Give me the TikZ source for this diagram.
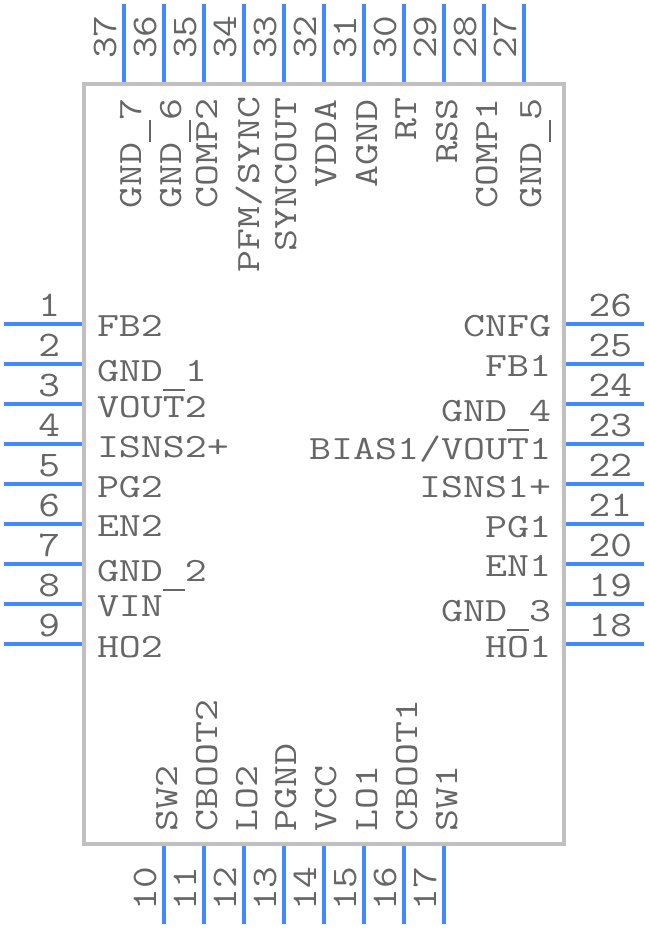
\documentclass[tikz,border=0pt]{standalone}
\usepackage{graphicx}
\definecolor{pinblue}{HTML}{4488FF}
\definecolor{boxgray}{HTML}{C0C0C0}
\definecolor{txtgray}{HTML}{666666}
\newcommand{\us}{\makebox[0.515em][c]{\rule[-0.29em]{0.5em}{0.05em}}}
\newcommand{\pintxt}[1]{\scalebox{1.256}[1]{\fontsize{34}{34}\selectfont\ttfamily #1}}
\newcommand{\numtxt}[1]{\scalebox{1.17}[1]{\fontsize{36}{36}\selectfont\ttfamily #1}}
\tikzset{
  pinline/.style={draw=pinblue,line width=4pt},
  chipbox/.style={draw=boxgray,line width=4pt},
  lbl/.style={inner sep=0pt,outer sep=0pt,text=txtgray,font=\ttfamily}
}
\begin{document}
\begin{tikzpicture}[x=1pt,y=-1pt]
\useasboundingbox (0,0) rectangle (648,928);
\fill[white] (0,0) rectangle (648,928);
% pins
\foreach \n/\y in {1/324,2/364,3/404,4/444,5/484,6/524,7/564,8/604,9/644}{
  \coordinate (a\n) at (4,\y); \coordinate (b\n) at (84,\y);
  \draw[pinline] (a\n) -- (b\n);
  \pgfmathsetmacro\ty{\y-8}
  \node[lbl,anchor=base east] (num\n) at (60,\ty) {\numtxt{\n}};
}
\foreach \n/\y in {26/324,25/364,24/404,23/444,22/484,21/524,20/564,19/604,18/644}{
  \coordinate (a\n) at (644,\y); \coordinate (b\n) at (564,\y);
  \draw[pinline] (a\n) -- (b\n);
  \pgfmathsetmacro\ty{\y-8}
  \node[lbl,anchor=base east] (num\n) at (632,\ty) {\numtxt{\n}};
}
\foreach \n/\x in {37/124,36/164,35/204,34/244,33/284,32/324,31/364,30/404,29/444,28/484,27/524}{
  \coordinate (a\n) at (\x,4); \coordinate (b\n) at (\x,84);
  \draw[pinline] (a\n) -- (b\n);
  \pgfmathsetmacro\tx{\x-8}
  \node[lbl,rotate=90,anchor=base west] (num\n) at (\tx,59) {\numtxt{\n}};
}
\foreach \n/\x in {10/164,11/204,12/244,13/284,14/324,15/364,16/404,17/444}{
  \coordinate (a\n) at (\x,924); \coordinate (b\n) at (\x,844);
  \draw[pinline] (a\n) -- (b\n);
  \pgfmathsetmacro\tx{\x-8}
  \node[lbl,rotate=90,anchor=base west] (num\n) at (\tx,910) {\numtxt{\n}};
}
\draw[chipbox] (84,84) rectangle (564,844);
% left labels
\foreach \nm/\t/\y in {l1/FB2/336,l2/GND\us 1/381,l3/VOUT2/417,l4/ISNS2+/457,l5/PG2/497,l6/EN2/536,l7/GND\us 2/581,l8/VIN/616,l9/HO2/657}{
  \node[lbl,anchor=base west] (\nm) at (97,\y) {\pintxt{\t}};
}
% right labels
\foreach \nm/\t/\y in {r26/CNFG/336,r25/FB1/376,r24/GND\us 4/421,r23/BIAS1\slash VOUT1/459,r22/ISNS1+/497,r21/PG1/537,r20/EN1/576,r19/GND\us 3/621,r18/HO1/657}{
  \node[lbl,anchor=base east] (\nm) at (551,\y) {\pintxt{\t}};
}
% top labels
\foreach \nm/\t/\x/\y in {t37/GND\us 7/141/208,t36/GND\us 6/181/208,t35/COMP2/217/208,t34/PFM\slash SYNC/259/272,t33/SYNCOUT/296/251,t32/VDDA/336/187,t31/AGND/377/187,t30/RT/416/141,t29/RSS/457/164,t28/COMP1/497/208,t27/GND\us 5/541/208}{
  \node[lbl,rotate=90,anchor=base west] (\nm) at (\x,\y) {\pintxt{\t}};
}
% bottom labels
\foreach \nm/\t/\x in {u10/SW2/177,u11/CBOOT2/217,u12/LO2/257,u13/PGND/296,u14/VCC/336,u15/LO1/377,u16/CBOOT1/417,u17/SW1/457}{
  \node[lbl,rotate=90,anchor=base west] (\nm) at (\x,831) {\pintxt{\t}};
}
\end{tikzpicture}
\end{document}
